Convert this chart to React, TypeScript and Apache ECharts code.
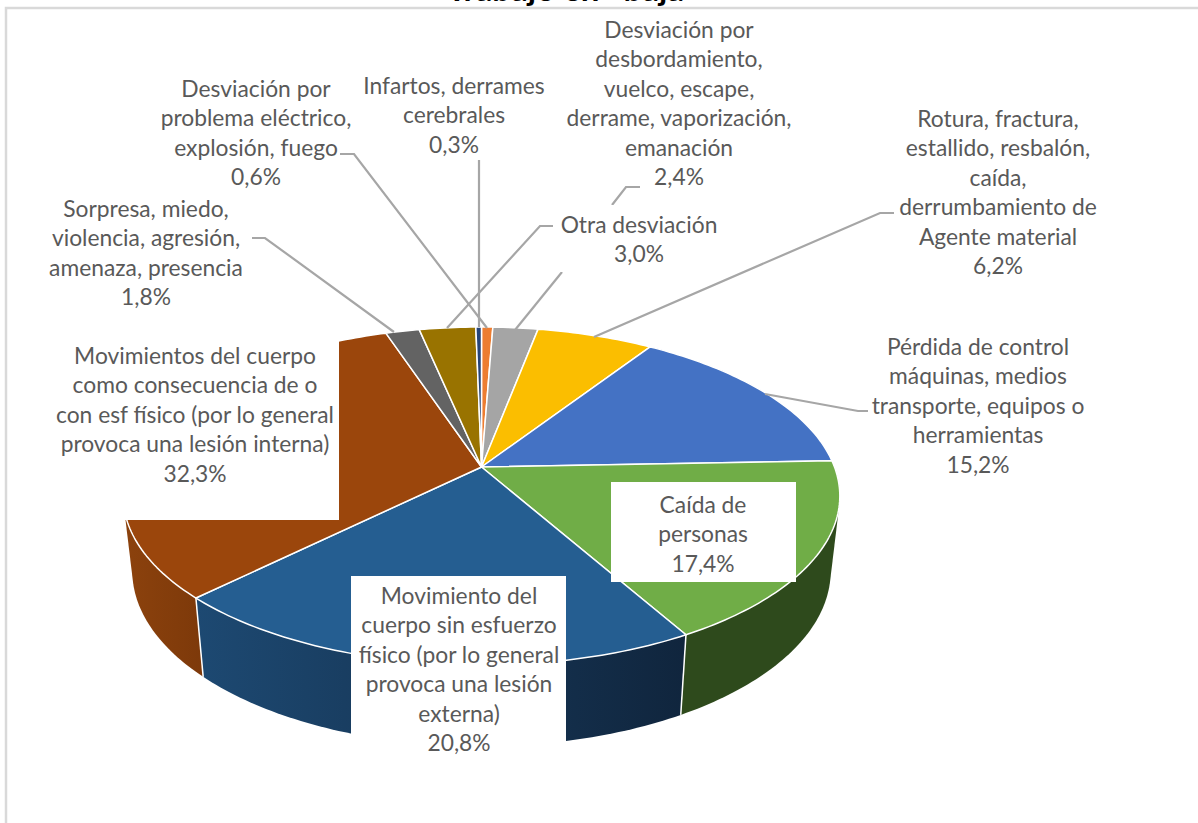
import React, { useEffect, useRef } from "react";
import * as echarts from "echarts";

const categories = [
  "Desviación por problema eléctrico, explosión, fuego",
  "Desviación por desbordamiento, vuelco, escape, derrame, vaporización, emanación",
  "Rotura, fractura, estallido, resbalón, caída, derrumbamiento de Agente material",
  "Pérdida de control máquinas, medios transporte, equipos o herramientas",
  "Caída de personas",
  "Movimiento del cuerpo sin esfuerzo físico (por lo general provoca una lesión externa)",
  "Movimientos del cuerpo como consecuencia de o con esf físico (por lo general provoca una lesión interna)",
  "Sorpresa, miedo, violencia, agresión, amenaza, presencia",
  "Otra desviación",
  "Infartos, derrames cerebrales",
];
const shares = [0.6, 2.4, 6.2, 15.2, 17.4, 20.8, 32.3, 1.8, 3.0, 0.3];
const topColors = ["#ED7D31", "#A5A5A5", "#FBBE00", "#4472C4", "#70AD47", "#255E91", "#9B460C", "#636363", "#997300", "#264478"];
const wallColors: [string, string][] = [
  ["#8E4A1D", "#8E4A1D"], ["#636363", "#636363"], ["#977200", "#977200"], ["#294476", "#294476"],
  ["#2E4A1C", "#2E4A1C"], ["#1D4972", "#10253D"], ["#8C420D", "#7D390A"], ["#3B3B3B", "#3B3B3B"],
  ["#5C4500", "#5C4500"], ["#172948", "#172948"],
];
const labelLines: string[][] = [
  ["Desviación por", "problema eléctrico,", "explosión, fuego", "0,6%"],
  ["Desviación por", "desbordamiento,", "vuelco, escape,", "derrame, vaporización,", "emanación", "2,4%"],
  ["Rotura, fractura,", "estallido, resbalón,", "caída,", "derrumbamiento de", "Agente material", "6,2%"],
  ["Pérdida de control", "máquinas, medios", "transporte, equipos o", "herramientas", "15,2%"],
  ["Caída de", "personas", "17,4%"],
  ["Movimiento del", "cuerpo sin esfuerzo", "físico (por lo general", "provoca una lesión", "externa)", "20,8%"],
  ["Movimientos del cuerpo", "como consecuencia de o", "con esf físico (por lo general", "provoca una lesión interna)", "32,3%"],
  ["Sorpresa, miedo,", "violencia, agresión,", "amenaza, presencia", "1,8%"],
  ["Otra desviación", "3,0%"],
  ["Infartos, derrames", "cerebrales", "0,3%"],
];
// label centre x, first-line centre y
const labelPos: [number, number][] = [
  [256, 88], [679, 29], [998, 118], [978, 346], [703, 504], [459, 595], [195, 355], [146, 208], [639, 224], [454, 85],
];
// label white boxes: x, y, w, h
const labelBoxes: ([number, number, number, number] | null)[] = [
  null, null, null, null, [611, 482, 185, 100], [351, 576, 215, 186], [55, 335, 284, 185], null, [553, 205, 172, 67], null,
];
const leaders: number[][][] = [
  [[340, 154], [354, 154], [487, 328]],
  [[640, 187], [626, 187], [612, 205]],
  [[562, 272], [515, 330]],
  [[894, 213], [880, 213], [594, 337]],
  [[765, 394], [858, 411], [868, 411]],
  [[252, 238], [265, 238], [394, 332]],
  [[553, 226], [540, 226], [447, 328]],
  [[479, 160], [479, 327]],
];

const CX = 481.5;
const K = 0.1716;
const TOP = { a: 353, b: 164, c: 467 };
const BOTTOM = { a: 344, b: 170, c: 541 };
const FONT = "Lato";
const LINE = 29.4;

function project(d: { a: number; b: number; c: number }, deg: number): number[] {
  const t = (deg * Math.PI) / 180;
  const u = Math.sin(t);
  const vDown = -Math.cos(t);
  const w = 1 - K * vDown;
  return [CX + (d.a * u) / w, d.c + (d.b * vDown) / w];
}
function arc(d: { a: number; b: number; c: number }, a0: number, a1: number): number[][] {
  const n = Math.max(2, Math.ceil(Math.abs(a1 - a0)));
  const out: number[][] = [];
  for (let i = 0; i <= n; i++) out.push(project(d, a0 + ((a1 - a0) * i) / n));
  return out;
}
function sliceAngles(values: number[], i: number): [number, number] {
  const total = values.reduce((s, x) => s + x, 0);
  let sum = 0;
  for (let k = 0; k < i; k++) sum += values[k];
  return [(sum / total) * 360, ((sum + values[i]) / total) * 360];
}
function hull(points: number[][]): number[][] {
  const p = points.slice().sort((a, b) => a[0] - b[0] || a[1] - b[1]);
  const cross = (o: number[], a: number[], b: number[]) =>
    (a[0] - o[0]) * (b[1] - o[1]) - (a[1] - o[1]) * (b[0] - o[0]);
  const half = (list: number[][]) => {
    const out: number[][] = [];
    for (const q of list) {
      while (out.length >= 2 && cross(out[out.length - 2], out[out.length - 1], q) <= 0) out.pop();
      out.push(q);
    }
    out.pop();
    return out;
  };
  return [...half(p), ...half(p.slice().reverse())];
}

export default function App() {
  const ref = useRef<HTMLDivElement>(null);
  useEffect(() => {
    document.body.style.margin = "0";
    const chart = echarts.init(ref.current!, undefined, { renderer: "svg" });
    const graphic: any[] = [];
    graphic.push({
      type: "polyline", z: 1, silent: true,
      shape: { points: [[6, 826], [6, 8], [1200, 8]] },
      style: { stroke: "#D9D9D9", lineWidth: 2.5, fill: "none" },
    });
    graphic.push({
      type: "text", z: 20, x: 447, y: -29, silent: true,
      style: { text: "Trabajo en\u00A0\u00A0 baja", font: `bold 33px ${FONT}`, fill: "#000000", textAlign: "left", textVerticalAlign: "top" },
    });
    leaders.forEach((pts) => {
      graphic.push({
        type: "polyline", z: 20, silent: true,
        shape: { points: pts },
        style: { stroke: "#A6A6A6", lineWidth: 2.2, fill: "none" },
      });
    });
    labelBoxes.forEach((b) => {
      if (b) graphic.push({
        type: "rect", z: 30, silent: true,
        shape: { x: b[0], y: b[1], width: b[2], height: b[3] },
        style: { fill: "#FFFFFF" },
      });
    });
    labelLines.forEach((lines, i) => {
      lines.forEach((line, j) => {
        graphic.push({
          type: "text", z: 40, silent: true,
          x: labelPos[i][0], y: labelPos[i][1] + j * LINE,
          style: { text: line, font: `22.8px ${FONT}`, fill: "#595959", textAlign: "center", textVerticalAlign: "middle" },
        });
      });
    });

    chart.setOption({
      animation: false,
      backgroundColor: "#FFFFFF",
      tooltip: { show: false },
      graphic,
      series: [
        {
          type: "custom", name: "paredes", coordinateSystem: "none", z: 2, silent: true,
          data: shares.map((v, i) => ({ value: [v], name: categories[i] })),
          renderItem: (params: any) => {
            const [a0, a1] = sliceAngles(shares, params.dataIndex);
            const s = Math.max(a0, 90);
            const e = Math.min(a1, 270);
            if (e <= s) return { type: "group", children: [] };
            const top = arc(TOP, s, e);
            const bot = arc(BOTTOM, s, e);
            const cols = wallColors[params.dataIndex];
            const children: any[] = [{
              type: "polygon",
              shape: { points: hull([...top, ...bot]) },
              style: {
                fill: {
                  type: "linear", x: 0, y: 0, x2: 1, y2: 0,
                  colorStops: [{ offset: 0, color: cols[0] }, { offset: 1, color: cols[1] }],
                },
                stroke: null,
              },
            }];
            return { type: "group", children };
          },
        },
        {
          type: "custom", name: "separadores", coordinateSystem: "none", z: 2.5, silent: true,
          data: shares.map((v, i) => ({ value: [v], name: categories[i] })),
          renderItem: (params: any) => {
            const [a0] = sliceAngles(shares, params.dataIndex);
            if (a0 <= 90 || a0 >= 270) return { type: "group", children: [] };
            const t = project(TOP, a0);
            const b = project(BOTTOM, a0);
            return {
              type: "line",
              shape: { x1: t[0], y1: t[1], x2: b[0], y2: b[1] },
              style: { stroke: "#FFFFFF", lineWidth: 1.5 },
            };
          },
        },
        {
          type: "custom", name: "sectores", coordinateSystem: "none", z: 3, silent: true,
          data: shares.map((v, i) => ({ value: [v], name: categories[i] })),
          renderItem: (params: any) => {
            const [a0, a1] = sliceAngles(shares, params.dataIndex);
            return {
              type: "polygon",
              shape: { points: [[CX, TOP.c], ...arc(TOP, a0, a1)] },
              style: { fill: topColors[params.dataIndex], stroke: "#FFFFFF", lineWidth: 1.5, lineJoin: "round" },
            };
          },
        },
      ],
    });
    return () => chart.dispose();
  }, []);
  return <div ref={ref} style={{ position: "absolute", left: 0, top: 0, width: 1198, height: 823, background: "#fff" }} />;
}
